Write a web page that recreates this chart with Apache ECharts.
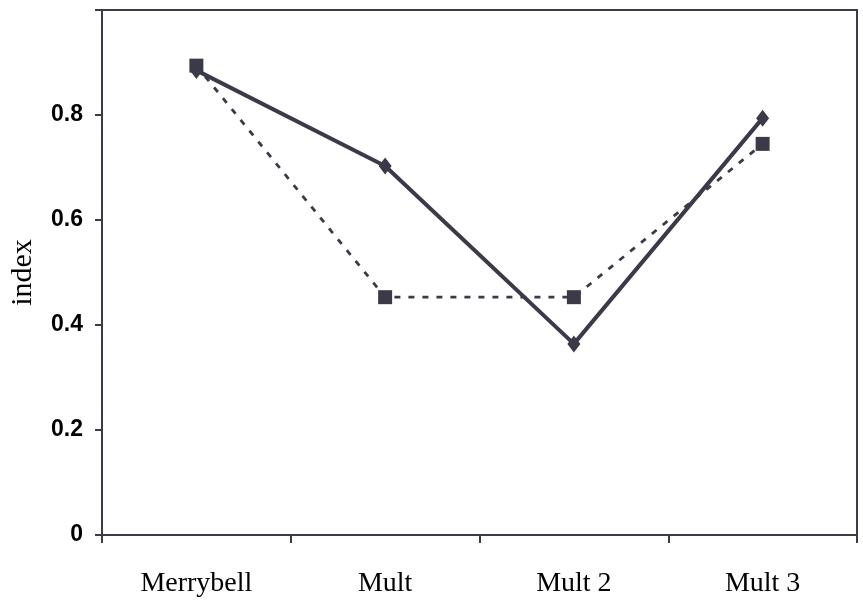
<!DOCTYPE html>
<html><head><meta charset="utf-8">
<script src="https://cdn.jsdelivr.net/npm/echarts@6/dist/echarts.min.js"></script>
<style>html,body{margin:0;padding:0;background:#fff}#c{width:863px;height:603px}</style>
</head><body><div id="c"></div>
<script>
const categories = ['Merrybell', 'Mult', 'Mult 2', 'Mult 3'];
const solidSeries = [0.885, 0.703, 0.364, 0.794];
const dashedSeries = [0.894, 0.453, 0.453, 0.745];
const yTicks = [0, 0.2, 0.4, 0.6, 0.8];
const yAxisTitle = 'index';

const ink = '#3b3a48';
const serif = "'Liberation Serif', 'Times New Roman', serif";
const sans = "'Liberation Sans', Arial, sans-serif";
const chart = echarts.init(document.getElementById('c'));
chart.setOption({
  animation: false,
  backgroundColor: '#fff',
  grid: { left: 100, top: 10, right: 6, bottom: 68, show: true, borderColor: ink, borderWidth: 2, containLabel: false },
  xAxis: {
    type: 'category', data: categories, boundaryGap: true,
    axisLine: { lineStyle: { color: ink, width: 2 } },
    axisTick: { show: true, length: 8, inside: false, lineStyle: { color: ink, width: 2 } },
    axisLabel: { color: '#000', fontFamily: serif, fontSize: 28, margin: 35 },
    splitLine: { show: false }
  },
  yAxis: {
    type: 'value', min: 0, max: 1.0, interval: 0.2,
    name: yAxisTitle, nameLocation: 'middle', nameGap: 64,
    nameTextStyle: { color: '#000', fontFamily: serif, fontSize: 30 },
    axisLine: { show: true, lineStyle: { color: ink, width: 2 } },
    axisTick: { show: true, length: 7, lineStyle: { color: ink, width: 2 } },
    axisLabel: {
      color: '#000', fontFamily: sans, fontWeight: 'bold', fontSize: 23, margin: 19,
      formatter: v => { const r = Math.round(v * 10) / 10; return yTicks.some(t => Math.abs(t - r) < 1e-9) ? (r === 0 ? '0' : String(r)) : ''; }
    },
    splitLine: { show: false }
  },
  series: [
    {
      type: 'line', data: dashedSeries, z: 2,
      symbol: 'rect', symbolSize: 14,
      lineStyle: { color: ink, width: 2.8, type: [6, 8] },
      itemStyle: { color: ink }
    },
    {
      type: 'line', data: solidSeries, z: 3,
      symbol: 'diamond', symbolSize: [13, 17],
      lineStyle: { color: ink, width: 4 },
      itemStyle: { color: ink }
    }
  ]
});
</script></body></html>
